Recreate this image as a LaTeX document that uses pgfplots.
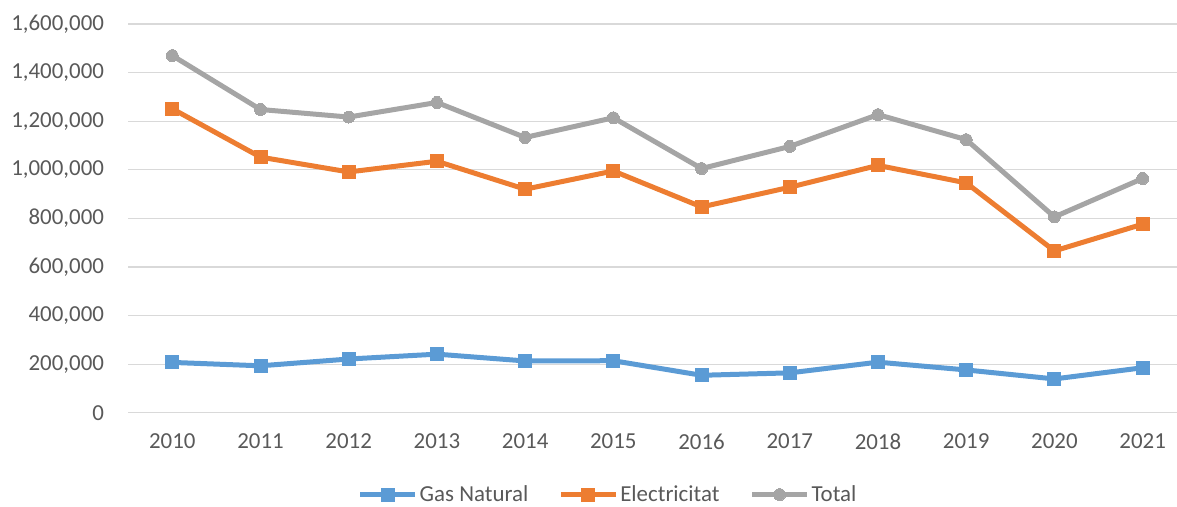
\documentclass[border=0pt]{standalone}
\usepackage{fontspec}
\setmainfont{Carlito}
\usepackage{pgfplots}
\pgfplotsset{compat=1.18}
\definecolor{cgas}{HTML}{5B9BD5}
\definecolor{celec}{HTML}{ED7D31}
\definecolor{ctot}{HTML}{A5A5A5}
\definecolor{ctext}{HTML}{595959}
\definecolor{cgrid}{HTML}{D9D9D9}
\begin{document}
\begin{tikzpicture}
\useasboundingbox (-128.2bp,-94.3bp) rectangle (1048.8bp,412.7bp);
\begin{axis}[
  at={(0,0)}, anchor=south west,
  scale only axis, width=1048.8bp, height=388.7bp,
  xmin=-0.5, xmax=11.39, ymin=0, ymax=1600000,
  xtick={0,...,11},
  xticklabels={2010,2011,2012,2013,2014,2015,2016,2017,2018,2019,2020,2021},
  ytick={0,200000,...,1600000},
  scaled y ticks=false,
  /pgf/number format/assume math mode=true,
  /pgf/number format/fixed,
  /pgf/number format/1000 sep={,},
  major tick length=0pt,
  axis line style={draw=none},
  ymajorgrids, grid style={draw=cgrid, line width=1.2bp},
  tick label style={font=\fontsize{23}{27}\selectfont, text=ctext},
  yticklabel style={anchor=east, inner sep=0pt, xshift=-24bp},
  xticklabel style={anchor=north, inner sep=0pt, yshift=-21bp},
  legend columns=3,
  legend style={at={(axis description cs:0.4575,-0.2107)}, anchor=center,
    draw=none, fill=none, inner sep=0pt,
    font=\fontsize{23}{27}\selectfont, text=ctext,
    nodes={inner xsep=2bp, inner ysep=0pt},
    /tikz/every even column/.append style={column sep=28bp}},
  legend image code/.code={\draw[mark repeat=2,mark phase=2,#1] plot coordinates {(0bp,0bp) (27.5bp,0bp) (55bp,0bp)};},
]
\addplot[cgas, line width=5bp, mark=square*, mark size=6.5bp, mark options={line width=0pt, fill=cgas}] coordinates {
(0,207000) (1,193000) (2,221000) (3,241000) (4,213000) (5,214000)
(6,154000) (7,164000) (8,208000) (9,176000) (10,139000) (11,185000)};
\addlegendentry{Gas Natural}
\addplot[celec, line width=5bp, mark=square*, mark size=6.5bp, mark options={line width=0pt, fill=celec}] coordinates {
(0,1251000) (1,1052000) (2,991000) (3,1035000) (4,920000) (5,995000)
(6,847000) (7,928000) (8,1018000) (9,946000) (10,666000) (11,776000)};
\addlegendentry{Electricitat}
\addplot[ctot, line width=5bp, mark=*, mark size=6bp, mark options={line width=0pt, fill=ctot}] coordinates {
(0,1470000) (1,1248000) (2,1217000) (3,1277000) (4,1133000) (5,1214000)
(6,1005000) (7,1096000) (8,1227000) (9,1124000) (10,806000) (11,964000)};
\addlegendentry{Total}
\end{axis}
\end{tikzpicture}
\end{document}
